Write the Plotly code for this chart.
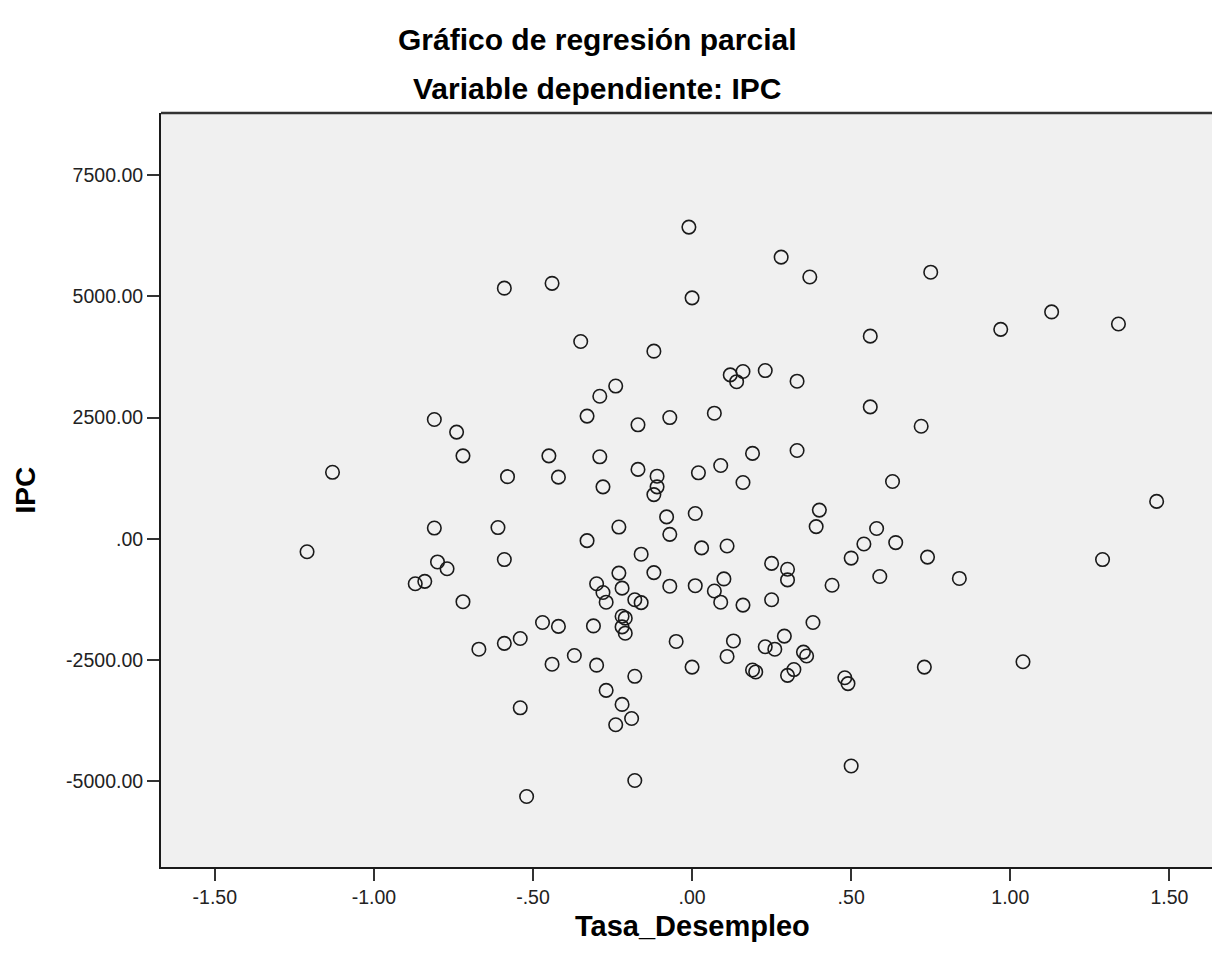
import plotly.graph_objects as go

# Partial regression residuals
tasa_desempleo = [
    -0.01, 0.28, 0.37, 0.75, -0.59, -0.44, 0.00, 1.13, 1.34, 0.97,
    -0.35, -0.12, 0.56, 0.12, 0.16, 0.14, 0.23, 0.33, -0.24, -0.29,
    -0.33, -0.17, -0.07, 0.07, 0.56, 0.72, -0.81, -0.74, -0.72, -0.45,
    -1.13, -0.58, -0.42, -0.29, 0.19, 0.33, -0.17, -0.11, -0.11, -0.12,
    0.02, 0.09, 0.16, -0.28, 0.63, 1.46, -1.21, -0.81, -0.61, -0.33,
    -0.80, -0.77, -0.59, -0.87, -0.84, -0.72, -0.47, -0.42, -0.30, -0.31,
    -0.67, -0.59, -0.54, -0.44, -0.37, -0.30, -0.54, -0.52, -0.08, 0.01,
    -0.23, -0.07, -0.16, 0.03, 0.11, 0.40, 0.39, 0.58, 0.54, 0.50,
    0.59, 0.25, 0.30, 0.30, 0.44, -0.23, -0.28, -0.27, -0.22, -0.12,
    -0.07, 0.01, 0.07, 0.10, 0.09, 0.16, 0.25, -0.18, -0.16, -0.22,
    -0.21, -0.22, -0.21, 0.38, -0.05, 0.13, 0.11, 0.23, 0.26, 0.29,
    0.35, 0.36, 0.00, -0.18, 0.19, 0.20, 0.32, 0.30, 0.48, 0.49,
    -0.27, -0.22, -0.19, -0.24, -0.18, 0.50, 0.64, 0.74, 0.84, 1.29,
    0.73, 1.04,
]
ipc = [
    6430, 5810, 5400, 5500, 5170, 5270, 4970, 4680, 4430, 4320,
    4070, 3870, 4180, 3380, 3450, 3240, 3470, 3250, 3150, 2940,
    2530, 2350, 2500, 2590, 2720, 2320, 2460, 2200, 1710, 1710,
    1370, 1280, 1270, 1690, 1760, 1820, 1430, 1290, 1070, 910,
    1360, 1510, 1160, 1070, 1180, 770, -270, 220, 230, -40,
    -480, -620, -430, -930, -880, -1300, -1730, -1810, -930, -1800,
    -2280, -2160, -2060, -2590, -2410, -2610, -3490, -5320, 450, 520,
    240, 90, -320, -190, -150, 590, 250, 210, -110, -400,
    -780, -510, -630, -850, -960, -710, -1110, -1310, -1020, -700,
    -980, -970, -1080, -830, -1310, -1370, -1260, -1260, -1320, -1600,
    -1640, -1820, -1950, -1730, -2120, -2110, -2430, -2230, -2280, -2010,
    -2340, -2420, -2650, -2840, -2710, -2750, -2700, -2820, -2870, -2990,
    -3130, -3420, -3710, -3840, -4990, -4690, -80, -380, -820, -430,
    -2650, -2540,
]

x_tick_vals = [-1.5, -1.0, -0.5, 0.0, 0.5, 1.0, 1.5]
x_tick_text = ["-1.50", "-1.00", "-.50", ".00", ".50", "1.00", "1.50"]
y_tick_vals = [-5000, -2500, 0, 2500, 5000, 7500]
y_tick_text = ["-5000.00", "-2500.00", ".00", "2500.00", "5000.00", "7500.00"]

title_line1 = "Gráfico de regresión parcial"
title_line2 = "Variable dependiente: IPC"
x_title = "Tasa_Desempleo"
y_title = "IPC"

FONT = "Liberation Sans, Arial, sans-serif"

fig = go.Figure()
fig.add_trace(go.Scatter(
    x=tasa_desempleo, y=ipc, mode="markers",
    marker=dict(symbol="circle-open", size=13.5, color="#1a1a1a",
                line=dict(width=1.6, color="#1a1a1a")),
    showlegend=False, hoverinfo="skip",
))

axis_common = dict(
    showgrid=False, zeroline=False, showline=True, linecolor="#1a1a1a",
    linewidth=2, ticks="outside", ticklen=12, tickwidth=2, tickcolor="#333333",
    tickfont=dict(family=FONT, size=19.5, color="#222222"), mirror=False,
)

fig.update_layout(
    width=1212, height=958,
    margin=dict(l=161, r=0, t=113, b=91),
    paper_bgcolor="white", plot_bgcolor="#f0f0f0",
    xaxis=dict(range=[-1.669, 1.634], tickvals=x_tick_vals, ticktext=x_tick_text,
               **axis_common),
    yaxis=dict(range=[-6775, 8785], tickvals=y_tick_vals, ticktext=y_tick_text,
               **axis_common),
    shapes=[dict(type="line", xref="paper", yref="paper", x0=0, x1=1, y0=1, y1=1,
                 line=dict(color="#333333", width=2.5))],
    annotations=[
        dict(text=title_line1, xref="paper", yref="paper", x=0.415, y=1.097,
             showarrow=False, xanchor="center", yanchor="middle",
             font=dict(family=FONT, size=30, color="black", weight="bold")),
        dict(text=title_line2, xref="paper", yref="paper", x=0.415, y=1.033,
             showarrow=False, xanchor="center", yanchor="middle",
             font=dict(family=FONT, size=30, color="black", weight="bold")),
        dict(text=x_title, xref="paper", yref="paper", x=0.506, y=-0.078,
             showarrow=False, xanchor="center", yanchor="middle",
             font=dict(family=FONT, size=29, color="black", weight="bold")),
        dict(text=y_title, xref="paper", yref="paper", x=-0.129, y=0.5,
             showarrow=False, xanchor="center", yanchor="middle", textangle=-90,
             font=dict(family=FONT, size=28, color="black", weight="bold")),
    ],
)

fig.write_html("out.html",
               config={"displayModeBar": False},
               post_script="document.body.style.margin='0';document.body.style.overflow='hidden';")
